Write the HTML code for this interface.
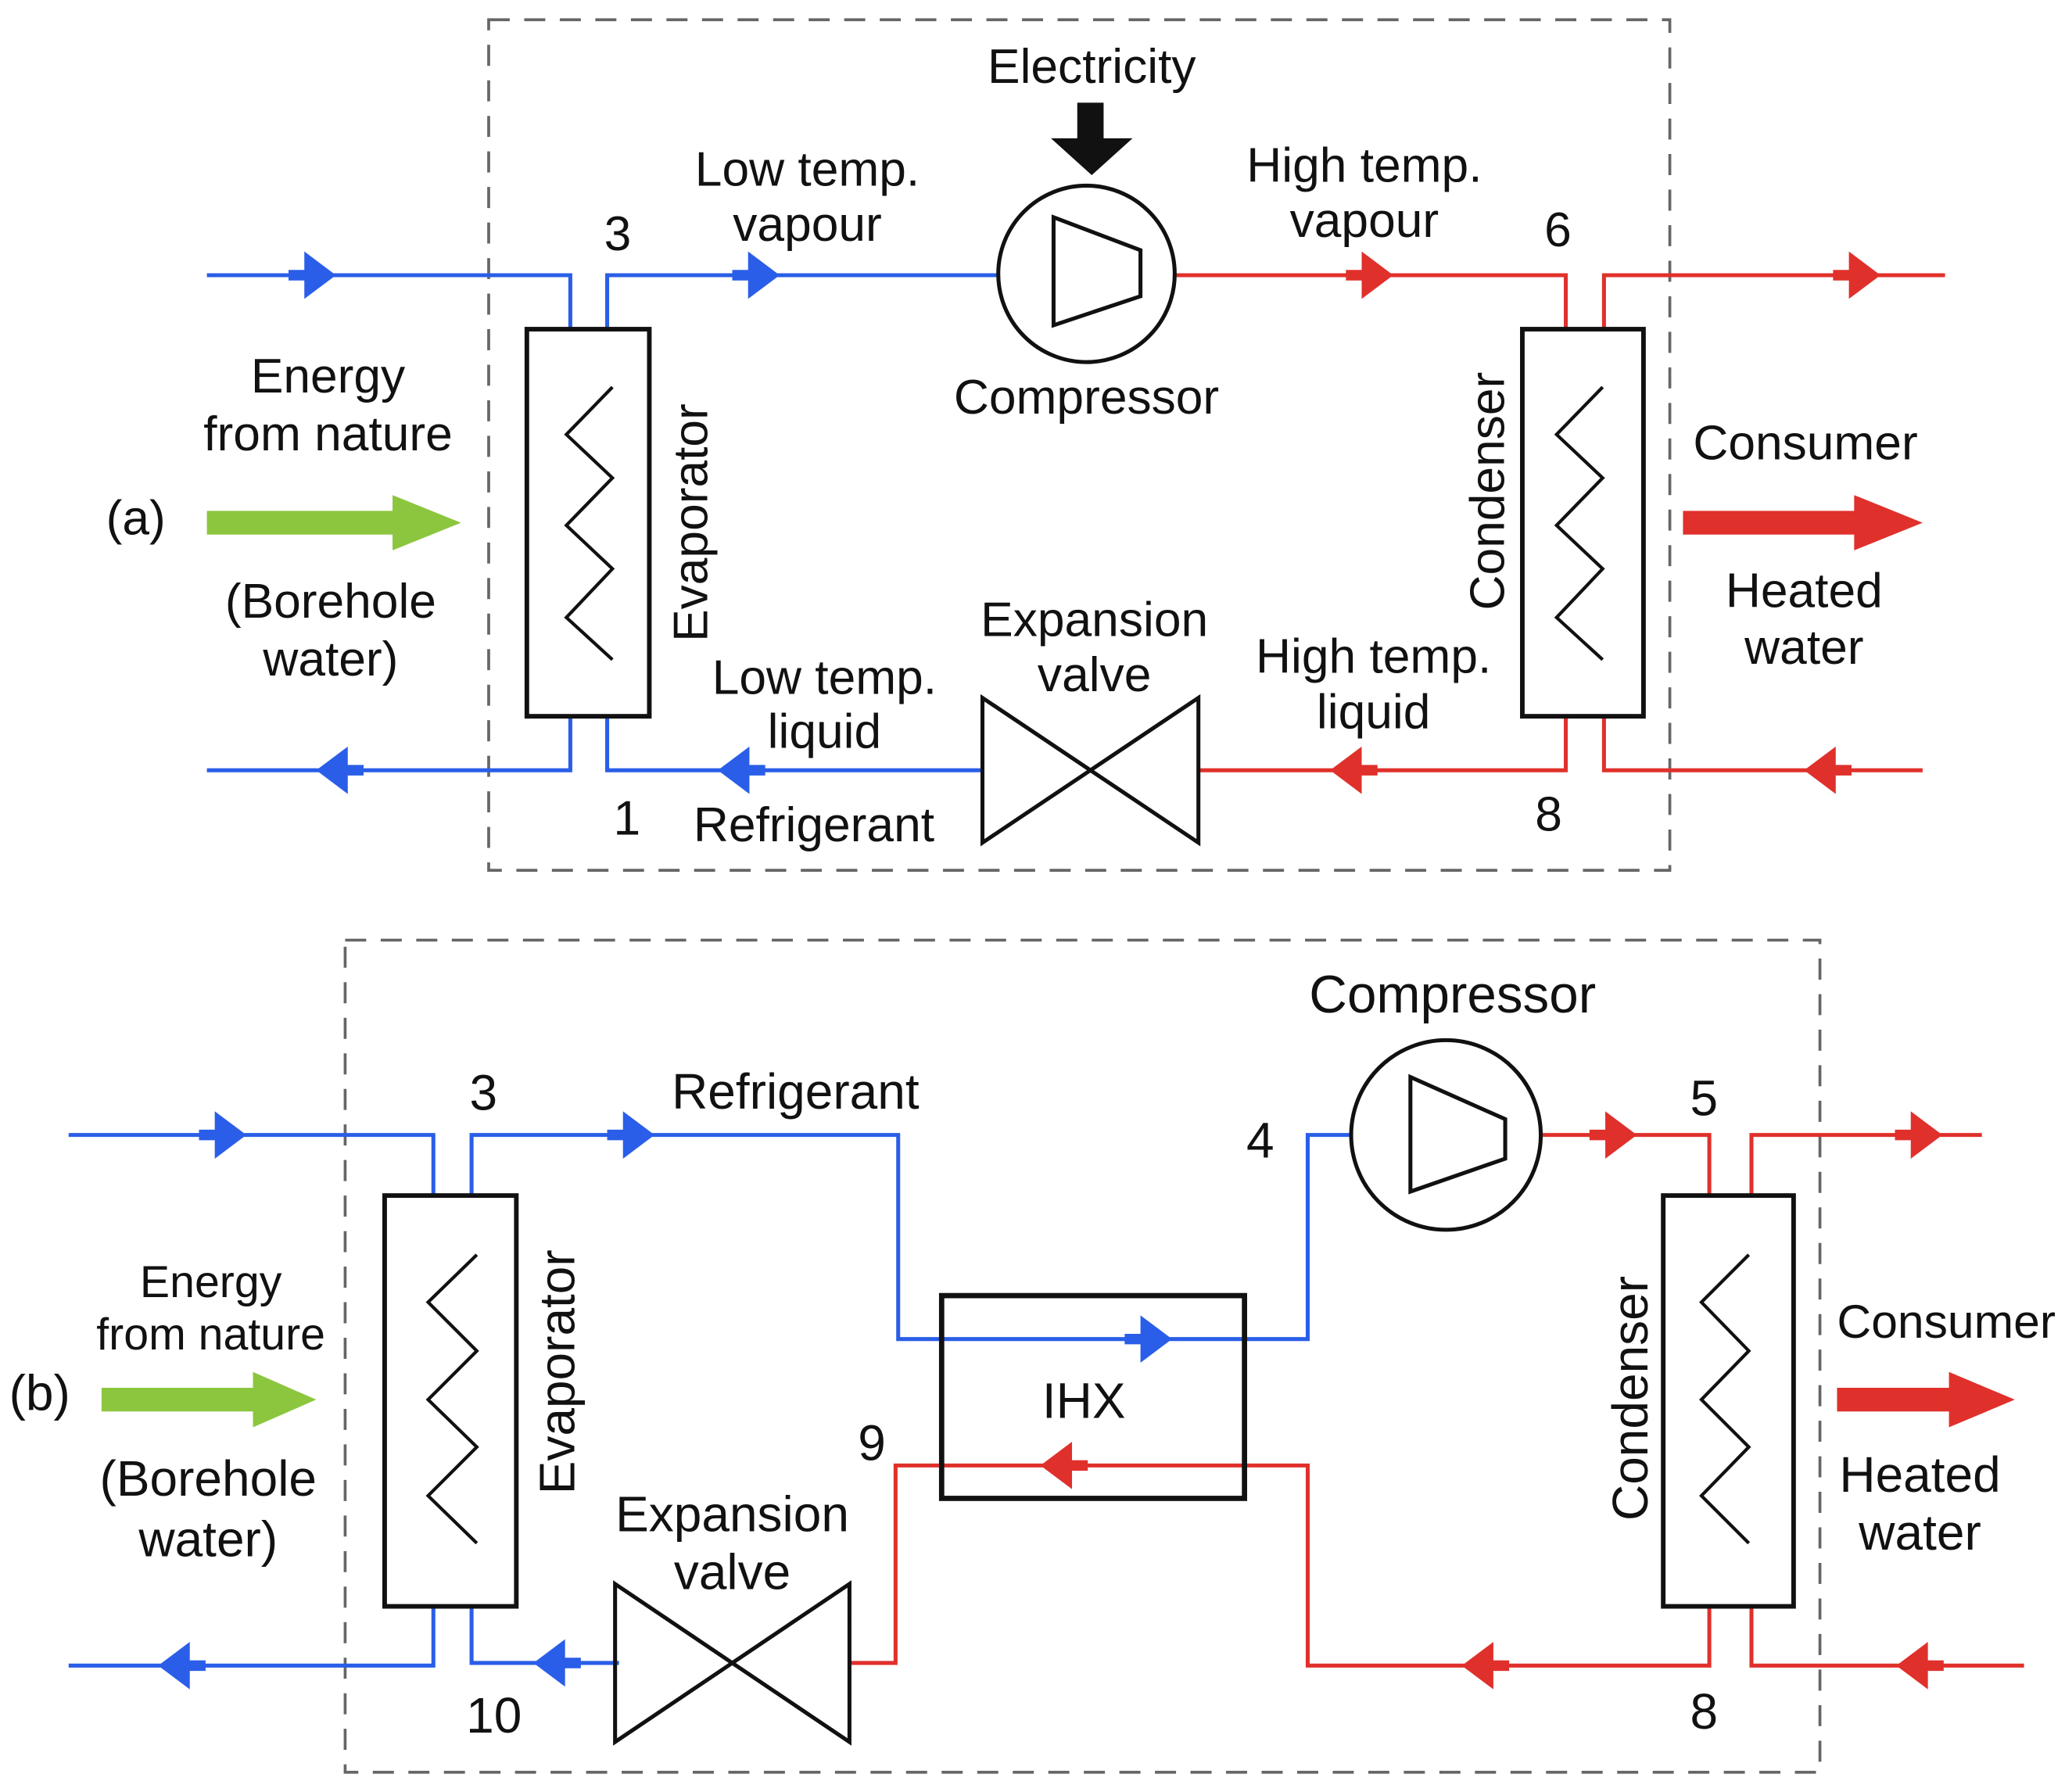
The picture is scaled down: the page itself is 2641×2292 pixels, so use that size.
<!DOCTYPE html>
<html><head><meta charset="utf-8"><style>html,body{margin:0;padding:0;background:#fff}svg{display:block}</style></head>
<body>
<svg width="2641" height="2292" viewBox="0 0 1568 1361" xmlns="http://www.w3.org/2000/svg" font-family="Liberation Sans, sans-serif" fill="none">
<defs>
<g id="ar"><path d="M-36,0 L-18,0" stroke-width="8"/><polygon points="-24,-18 0,0 -24,18" stroke="none"/></g>
</defs>
<!-- (a) -->
<rect x="371" y="15" width="897" height="646" stroke="#666" stroke-width="2.2" stroke-dasharray="16,11"/>
<g stroke="#2a5ee8" stroke-width="3">
<polyline points="157,209 433,209 433,250"/>
<polyline points="461,250 461,209 757,209"/>
<polyline points="157,585 433,585 433,544"/>
<polyline points="461,544 461,585 746,585"/>
</g>
<g stroke="#e0302b" stroke-width="3">
<polyline points="892,209 1189,209 1189,250"/>
<polyline points="1218,250 1218,209 1477,209"/>
<polyline points="910,585 1189,585 1189,544"/>
<polyline points="1218,544 1218,585 1460,585"/>
</g>
<g fill="#2a5ee8" stroke="#2a5ee8">
<use href="#ar" transform="translate(255,209)"/><use href="#ar" transform="translate(592,209)"/>
<use href="#ar" transform="translate(240,585) scale(-1,1)"/><use href="#ar" transform="translate(545,585) scale(-1,1)"/>
</g>
<g fill="#e0302b" stroke="#e0302b">
<use href="#ar" transform="translate(1058,209)"/><use href="#ar" transform="translate(1428,209)"/>
<use href="#ar" transform="translate(1010,585) scale(-1,1)"/><use href="#ar" transform="translate(1370,585) scale(-1,1)"/>
</g>
<g stroke="#111" stroke-width="3">
<rect x="400" y="250" width="93" height="294" stroke-width="3.5"/>
<polyline points="465,294 430,330 465,363 430,399 465,432 430,469 465,501" stroke-width="2.5"/>
<rect x="1156" y="250" width="92" height="294" stroke-width="3.5"/>
<polyline points="1217,294 1182,330 1217,363 1182,399 1217,432 1182,469 1217,501" stroke-width="2.5"/>
<circle cx="825" cy="208" r="67"/>
<polygon points="800,165 866,190 866,225 800,247"/>
<polygon points="746,530 910,640 910,530 746,640"/>
</g>
<rect x="818" y="78" width="20" height="30" fill="#111"/>
<polygon points="798,105 860,105 829,133" fill="#111"/>
<rect x="157" y="388" width="145" height="18" fill="#8cc63f"/>
<polygon points="298,376 350,397 298,418" fill="#8cc63f"/>
<rect x="1278" y="388" width="135" height="18" fill="#e0302b"/>
<polygon points="1408,376 1460,397 1408,418" fill="#e0302b"/>
<g fill="#111" font-size="37" text-anchor="middle">
<text x="829" y="63">Electricity</text>
<text x="613" y="141">Low temp.</text><text x="613" y="183">vapour</text>
<text x="1036" y="138">High temp.</text><text x="1036" y="180">vapour</text>
<text x="469" y="190">3</text><text x="1183" y="187">6</text>
<text x="825" y="314">Compressor</text>
<text x="249" y="298">Energy</text><text x="249" y="342">from nature</text>
<text x="103" y="406">(a)</text>
<text x="251" y="469">(Borehole</text><text x="251" y="513">water)</text>
<text x="1371" y="349">Consumer</text>
<text x="1370" y="461">Heated</text><text x="1370" y="504">water</text>
<text x="831" y="483">Expansion</text><text x="831" y="525">valve</text>
<text x="626" y="527">Low temp.</text><text x="626" y="568">liquid</text>
<text x="1043" y="511">High temp.</text><text x="1043" y="553">liquid</text>
<text x="476" y="634">1</text><text x="618" y="639">Refrigerant</text><text x="1176" y="631">8</text>
<text transform="translate(537,397) rotate(-90)">Evaporator</text>
<text transform="translate(1142,373) rotate(-90)">Condenser</text>
</g>
<!-- (b) -->
<rect x="262" y="714" width="1120" height="632" stroke="#666" stroke-width="2.2" stroke-dasharray="16,11"/>
<g stroke="#2a5ee8" stroke-width="3">
<polyline points="52,862 329,862 329,908"/>
<polyline points="358,908 358,862 682,862 682,1017 993,1017 993,862 1026,862"/>
<polyline points="52,1265 329,1265 329,1220"/>
<polyline points="358,1220 358,1263 470,1263"/>
</g>
<g stroke="#e0302b" stroke-width="3">
<polyline points="1170,862 1298,862 1298,908"/>
<polyline points="1330,908 1330,862 1505,862"/>
<polyline points="645,1263 680,1263 680,1113 993,1113 993,1265 1298,1265 1298,1220"/>
<polyline points="1330,1220 1330,1265 1537,1265"/>
</g>
<g fill="#2a5ee8" stroke="#2a5ee8">
<use href="#ar" transform="translate(187,862)"/><use href="#ar" transform="translate(497,862)"/>
<use href="#ar" transform="translate(890,1017)"/>
<use href="#ar" transform="translate(120,1265) scale(-1,1)"/><use href="#ar" transform="translate(405,1263) scale(-1,1)"/>
</g>
<g fill="#e0302b" stroke="#e0302b">
<use href="#ar" transform="translate(1243,862)"/><use href="#ar" transform="translate(1475,862)"/>
<use href="#ar" transform="translate(790,1113) scale(-1,1)"/>
<use href="#ar" transform="translate(1110,1265) scale(-1,1)"/><use href="#ar" transform="translate(1440,1265) scale(-1,1)"/>
</g>
<g stroke="#111" stroke-width="3">
<rect x="292" y="908" width="100" height="312" stroke-width="3.5"/>
<polyline points="362,953 325,989 362,1026 325,1063 362,1099 325,1136 362,1172" stroke-width="2.5"/>
<rect x="1263" y="908" width="99" height="312" stroke-width="3.5"/>
<polyline points="1328,953 1292,989 1328,1026 1292,1063 1328,1099 1292,1136 1328,1172" stroke-width="2.5"/>
<circle cx="1098" cy="862" r="72"/>
<polygon points="1071,818 1143,850 1143,880 1071,905"/>
<polygon points="467,1203 645,1323 645,1203 467,1323"/>
<rect x="715" y="984" width="230" height="154" stroke-width="4"/>
</g>
<rect x="77" y="1054" width="120" height="18" fill="#8cc63f"/>
<polygon points="192,1042 240,1063 192,1084" fill="#8cc63f"/>
<rect x="1395" y="1054" width="90" height="18" fill="#e0302b"/>
<polygon points="1480,1042 1530,1063 1480,1084" fill="#e0302b"/>
<g fill="#111" font-size="38" text-anchor="middle">
<text x="1103" y="769" font-size="40">Compressor</text>
<text x="367" y="843">3</text><text x="604" y="842">Refrigerant</text>
<text x="957" y="879">4</text><text x="1294" y="847">5</text>
<text x="160" y="985" font-size="34">Energy</text><text x="160" y="1025" font-size="34">from nature</text>
<text x="30" y="1071">(b)</text>
<text x="158" y="1136">(Borehole</text><text x="158" y="1182">water)</text>
<text x="823" y="1077">IHX</text>
<text x="662" y="1109">9</text>
<text x="556" y="1163">Expansion</text><text x="556" y="1207">valve</text>
<text x="1478" y="1016" font-size="36">Consumer</text>
<text x="1458" y="1133">Heated</text><text x="1458" y="1177">water</text>
<text x="375" y="1316">10</text><text x="1294" y="1313">8</text>
<text transform="translate(436,1042) rotate(-90)">Evaporator</text>
<text transform="translate(1251,1062) rotate(-90)">Condenser</text>
</g>
</svg>
</body></html>
